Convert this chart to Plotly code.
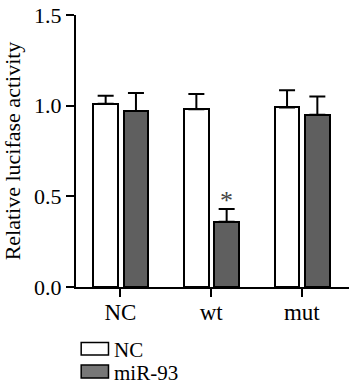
import plotly.graph_objects as go

categories = ["NC", "wt", "mut"]
nc_values = [1.01, 0.98, 0.99]
nc_errors = [0.045, 0.085, 0.095]
mir_values = [0.97, 0.36, 0.95]
mir_errors = [0.10, 0.07, 0.10]
series_names = ["NC", "miR-93"]
y_ticks = [0.0, 0.5, 1.0, 1.5]

FONT = "Liberation Serif"
xpos = list(range(len(categories)))
bar_w = 0.27
off_nc = -0.298
off_mir = 0.036

fig = go.Figure()
fig.add_trace(go.Bar(
    x=xpos, y=nc_values, name=series_names[0], width=bar_w, offset=off_nc,
    marker=dict(color="white", line=dict(color="black", width=2)),
    error_y=dict(type="data", array=nc_errors, arrayminus=[0]*3, symmetric=False,
                 color="black", thickness=2, width=8),
    showlegend=False,
))
fig.add_trace(go.Bar(
    x=xpos, y=mir_values, name=series_names[1], width=bar_w, offset=off_mir,
    marker=dict(color="#5f5f5f", line=dict(color="black", width=2)),
    error_y=dict(type="data", array=mir_errors, arrayminus=[0]*3, symmetric=False,
                 color="black", thickness=2, width=8),
    showlegend=False,
))

# significance star
fig.add_annotation(x=1 + off_mir + bar_w / 2, y=mir_values[1] + mir_errors[1],
                   text="*", showarrow=False, yanchor="bottom", yshift=-8,
                   font=dict(family=FONT, size=26, color="#444444"))

# manual legend
leg = [(series_names[0], "white", -0.204, -0.250), (series_names[1], "#777777", -0.287, -0.335)]
for name, col, y0, y1 in leg:
    fig.add_shape(type="rect", xref="paper", yref="paper", x0=0.019, x1=0.119, y0=y1, y1=y0,
                  line=dict(color="black", width=1.5), fillcolor=col)
    fig.add_annotation(xref="paper", yref="paper", x=0.134, y=(y0 + y1) / 2 - 0.004, text=name,
                       showarrow=False, xanchor="left", yanchor="middle", borderpad=0,
                       font=dict(family=FONT, size=21, color="black"))

fig.update_layout(
    width=349, height=389,
    margin=dict(l=76, r=0, t=15, b=102),
    plot_bgcolor="white", paper_bgcolor="white",
    font=dict(family=FONT, color="black"),
    bargap=0,
    xaxis=dict(range=[-0.49, 2.52], tickvals=xpos, ticktext=categories,
               showline=True, linecolor="black", linewidth=2,
               ticks="outside", ticklen=8, tickwidth=2, tickcolor="black",
               ticklabelstandoff=-5,
               showgrid=False, zeroline=False, tickfont=dict(size=23, family=FONT)),
    yaxis=dict(range=[0, 1.5], tickvals=y_ticks, ticktext=[f"{v:.1f}" for v in y_ticks],
               showline=True, linecolor="black", linewidth=2,
               ticks="outside", ticklen=8, tickwidth=2, tickcolor="black",
               showgrid=False, zeroline=False, tickfont=dict(size=22, family=FONT),
               title=dict(text="Relative lucifase activity", font=dict(size=22, family=FONT),
                          standoff=8)),
)

fig.write_html("out.html")
